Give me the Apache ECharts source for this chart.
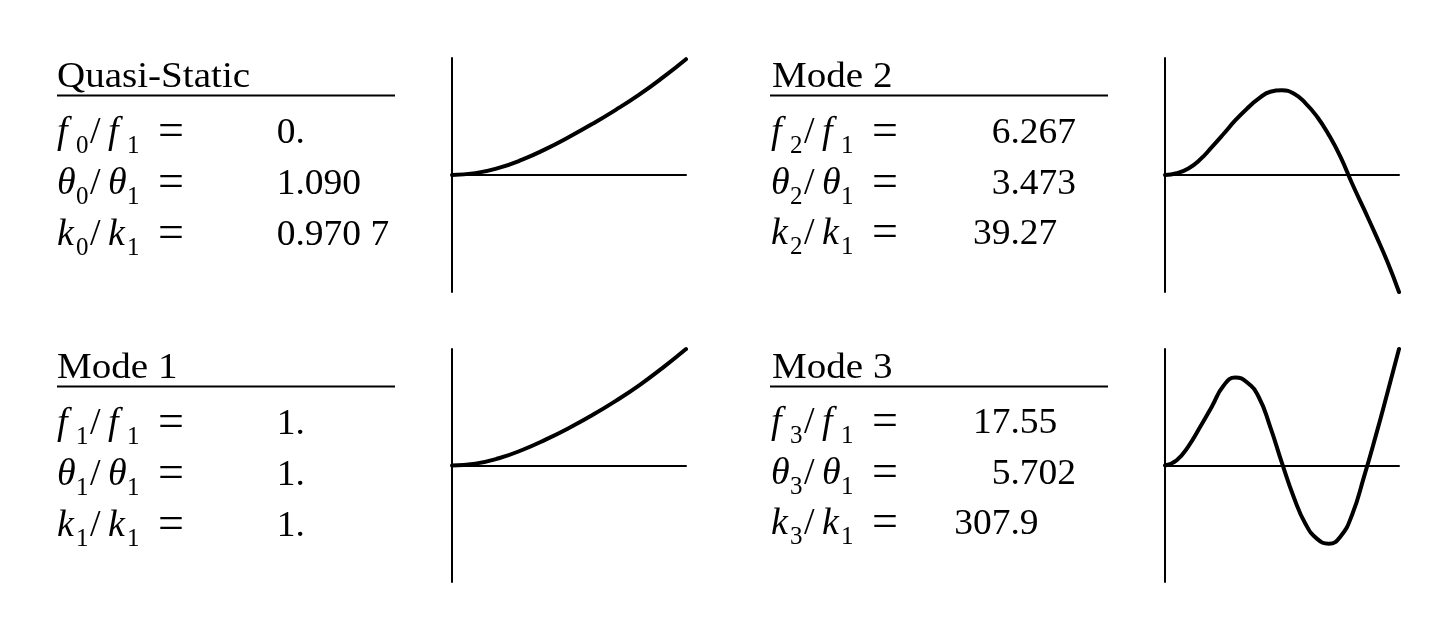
<!DOCTYPE html>
<html><head><meta charset="utf-8">
<script src="https://cdn.jsdelivr.net/npm/echarts@6/dist/echarts.min.js"></script>
<style>html,body{margin:0;padding:0;background:#fff}#c{width:1456px;height:641px}</style>
</head><body><div id="c"></div>
<script>
// ---------- data ----------
const panelTitles = ['Quasi-Static', 'Mode 1', 'Mode 2', 'Mode 3'];
const modeIndex = ['0', '1', '2', '3'];
const freqRatios = ['0.', '1.', '6.267', '17.55'];
const angleRatios = ['1.090', '1.', '3.473', '5.702'];
const stiffRatios = ['0.970 7', '1.', '39.27', '307.9'];

const quasiX = [0, 0.1, 0.2, 0.3, 0.4, 0.5, 0.6, 0.7, 0.8, 0.9, 1.0];
const quasiY = [0, 0.016, 0.061, 0.131, 0.221, 0.325, 0.437, 0.557, 0.687, 0.832, 0.99];

const mode1X = [0, 0.1, 0.2, 0.3, 0.4, 0.5, 0.6, 0.7, 0.8, 0.9, 1.0];
const mode1Y = [0, 0.016, 0.062, 0.133, 0.222, 0.322, 0.433, 0.555, 0.688, 0.838, 1.0];

const mode2X = [0, 0.05, 0.1, 0.15, 0.2, 0.25, 0.3, 0.35, 0.4, 0.45, 0.5, 0.55, 0.6, 0.65, 0.7, 0.75, 0.8, 0.85, 0.9, 0.95, 1.0];
const mode2Y = [0, 0.015, 0.056, 0.132, 0.238, 0.35, 0.466, 0.566, 0.652, 0.712, 0.724, 0.697, 0.615, 0.498, 0.343, 0.155, -0.075, -0.29, -0.51, -0.74, -1.0];

const mode3X = [0, 0.05, 0.1, 0.15, 0.2, 0.25, 0.3, 0.35, 0.4, 0.45, 0.5, 0.55, 0.6, 0.65, 0.7, 0.75, 0.8, 0.85, 0.9, 0.95, 1.0];
const mode3Y = [0, 0.045, 0.165, 0.33, 0.505, 0.685, 0.755, 0.715, 0.59, 0.33, 0.02, -0.27, -0.5, -0.63, -0.671, -0.61, -0.42, -0.1, 0.25, 0.62, 1.0];

const curvesX = [quasiX, mode1X, mode2X, mode3X];
const curvesY = [quasiY, mode1Y, mode2Y, mode3Y];

// ---------- layout / style ----------
const FAMILY = '"Liberation Serif","Times New Roman",Times,serif';
const FS = 35, TFS = 36.5, LFS = 38, SUBFS = 25, EQFS = 46, SX = 1.07, MID = 0.3375;
const layout = [
  {tx: 57,  lx: 57,  dec: 295.5,  base: 90,  rowBase: [146, 197, 248], ul: [57, 395, 95.5],   grid: {left: 452,  top: 58,  width: 234, height: 234}},
  {tx: 57,  lx: 57,  dec: 295.5,  base: 381, rowBase: [437, 488, 539], ul: [57, 395, 386.5],  grid: {left: 452,  top: 349, width: 234, height: 233}},
  {tx: 772, lx: 771, dec: 1010.5, base: 90,  rowBase: [146, 197, 247], ul: [770, 1108, 95.5], grid: {left: 1165, top: 58,  width: 234, height: 234}},
  {tx: 772, lx: 771, dec: 1010.5, base: 381, rowBase: [436, 487, 537], ul: [770, 1108, 386.5],grid: {left: 1165, top: 349, width: 234, height: 233}}
];

const measureCtx = document.createElement('canvas').getContext('2d');
measureCtx.font = FS + 'px ' + FAMILY;
function textW(s) { return measureCtx.measureText(s).width * SX; }

const LH = 48;
const rich = {
  i:  {fontFamily: FAMILY, fontSize: LFS, fontStyle: 'italic', lineHeight: LH, width: 19, fill: '#000'},
  s0: {fontFamily: FAMILY, fontSize: SUBFS, lineHeight: LH, padding: [27, 0, 0, 0], width: 14, fill: '#000'},
  n:  {fontFamily: FAMILY, fontSize: LFS, lineHeight: LH, width: 18, fill: '#000'},
  s1: {fontFamily: FAMILY, fontSize: SUBFS, lineHeight: LH, padding: [27, 0, 0, 0], width: 31, fill: '#000'},
  e:  {fontFamily: FAMILY, fontSize: EQFS, lineHeight: LH, fill: '#000'}
};
const symbols = ['f', 'θ', 'k'];

function textEl(x, baseline, text, fs, sx) {
  return {
    type: 'text', x: x, y: baseline - MID * fs, scaleX: sx, silent: true,
    style: {text: text, fontFamily: FAMILY, fontSize: fs, fill: '#000',
            align: 'left', verticalAlign: 'middle', textAlign: 'left', textVerticalAlign: 'middle'}
  };
}

const graphics = [];
layout.forEach((L, p) => {
  graphics.push(textEl(L.tx, L.base, panelTitles[p], TFS, SX));
  graphics.push({type: 'line', silent: true, shape: {x1: L.ul[0], y1: L.ul[2], x2: L.ul[1], y2: L.ul[2]},
                 style: {stroke: '#000', lineWidth: 2}});
  const vals = [freqRatios[p], angleRatios[p], stiffRatios[p]];
  symbols.forEach((sym, r) => {
    const label = '{i|' + sym + '}{s0|' + modeIndex[p] + '}{n|/}{i|' + sym + '}{s1|1}{e|=}';
    const el = textEl(L.lx, L.rowBase[r], label, LFS, 1);
    el.style.rich = rich;
    el.style.lineHeight = LH;
    graphics.push(el);
    const v = vals[r];
    const intPart = v.split('.')[0];
    graphics.push(textEl(L.dec - textW(intPart), L.rowBase[r], v, FS, SX));
  });
});

const grids = [], xAxes = [], yAxes = [], series = [];
layout.forEach((L, p) => {
  grids.push(Object.assign({containLabel: false}, L.grid));
  const axisLine = {show: true, onZero: true, lineStyle: {color: '#000', width: 2}};
  xAxes.push({gridIndex: p, type: 'value', min: 0, max: 1, axisLine: axisLine,
              axisTick: {show: false}, axisLabel: {show: false}, splitLine: {show: false}});
  yAxes.push({gridIndex: p, type: 'value', min: -1, max: 1, axisLine: axisLine,
              axisTick: {show: false}, axisLabel: {show: false}, splitLine: {show: false}});
  series.push({
    type: 'line', xAxisIndex: p, yAxisIndex: p, name: panelTitles[p],
    data: curvesX[p].map((x, j) => [x, curvesY[p][j]]),
    smooth: 0.5, showSymbol: false, symbol: 'none', clip: false,
    lineStyle: {color: '#000', width: 4, cap: 'round', join: 'round'}
  });
});

const chart = echarts.init(document.getElementById('c'), null, {renderer: 'canvas'});
chart.setOption({
  animation: false,
  backgroundColor: '#fff',
  grid: grids, xAxis: xAxes, yAxis: yAxes, series: series,
  graphic: {elements: graphics}
});
</script>
</body></html>
